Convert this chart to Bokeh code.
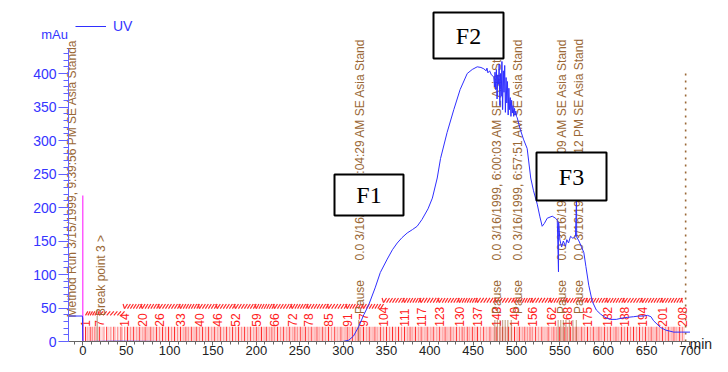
import numpy as np
from bokeh.plotting import figure
from bokeh.models import Range1d, FixedTicker
from bokeh.core.properties import value
from bokeh.embed import file_html
from bokeh.resources import INLINE

# ---------------- data ----------------
uv_time = [-16, -0.4, 0, 40, 100, 200, 300, 306.7, 312, 318, 324, 329.7, 337, 343, 351, 357, 362.5,
           368, 374, 380, 385.5, 391, 398, 403, 408.6, 412.4, 420, 427.7, 435, 443.2, 449, 454.7,
           459, 462.3, 465, 466, 467, 469, 471, 473.8,
           474.6, 475.2, 476, 476.8, 477.6, 478.4, 479.2, 480, 480.8, 481.6, 482.4, 483.2, 484,
           484.8, 485.6, 486.4, 487.2, 488, 488.8, 489.6, 490.4, 491.2, 492, 492.8, 493.6, 494.4,
           495.2, 496, 496.8, 497.6, 498.4, 499.2, 500, 500.8,
           504, 508, 512.3, 516.4, 519.6, 523.9, 527, 529.6, 532, 535.4, 541.2, 545, 547, 548.4, 548.6,
           550, 552, 554, 556.5, 558, 560, 562.3, 565, 568, 569.2, 569.4, 572, 577.6, 580, 583.3, 587.3,
           592, 596.8, 602, 608.3, 615, 622, 627.6, 635, 641, 646.4, 651, 655, 658, 662, 666, 672,
           681.3, 690, 700]
uv_mau = [38, 38, 0, 0.5, 0, 0, 0, 2, 8, 22, 40, 55, 80, 103, 123, 137, 147,
          155, 162, 167, 172, 182, 198, 214, 244, 273, 312, 346, 376, 400, 406, 410,
          409, 407, 404, 408, 401, 404, 398, 395,
          380, 402, 376, 406, 362, 398, 384, 414, 352, 400, 366, 418, 346,
          404, 372, 412, 342, 394, 356, 388, 338, 378, 346, 364, 336, 360, 341,
          352, 336, 348, 338, 344, 336, 334,
          318, 302, 288, 244, 225, 205, 186, 172, 176, 184, 187, 184, 181, 104, 178,
          152, 141, 150, 142, 152, 147, 157, 154, 157, 215, 156, 150, 133, 112, 84, 60,
          47, 41, 36, 33, 33, 35, 36, 37, 38, 38, 39, 37, 31, 26, 21, 17,
          14, 14, 14]

n_fractions = 208
frac_label_num = [1, 7, 14, 20, 26, 33, 40, 46, 52, 59, 66, 72, 78, 85, 91, 97, 104, 111, 117,
                  123, 130, 137, 143, 149, 156, 162, 168, 175, 182, 188, 194, 201, 208]
frac_label_time = [3.1, 19.3, 48.1, 68.5, 88.4, 112.6, 134.5, 155, 176, 200, 221, 241.4, 260,
                   283.3, 304.8, 323.6, 346.7, 370.9, 390, 411, 434.3, 455, 476.6, 497.7, 518.5,
                   540, 558.8, 581.9, 604.9, 624.5, 645.3, 668.4, 691.4]
# fraction-collector mark bands: first fraction of each band, low/high level (mAu)
band_first_fraction = [1, 14, 104]
band_low = [39, 49, 58]
band_high = [45, 56, 65]
frac_tick_height = 22
frac_label_base = 22

pause_time = [320, 478, 502, 553, 572]
pause_stamp = ["0.0 3/16/1999, 5:04:29 AM SE Asia Stand",
               "0.0 3/16/1999, 6:00:03 AM SE Asia Stand",
               "0.0 3/16/1999, 6:57:51 AM SE Asia Stand",
               "0.0 3/16/1999, 7:59:09 AM SE Asia Stand",
               "0.0 3/16/1999, 1:06:12 PM SE Asia Stand"]
pause_mark_time = [318, 475, 478, 481, 484, 487, 490, 494, 548, 551, 554, 557, 561, 565, 569]
pause_label_base = 41
stamp_base = 121

method_run_text = "Method Run 3/15/1999, 9:39:56 PM SE Asia Standa"
method_run_time = -11.9
method_run_base = 36
break_point_text = "Break point 3 >"
break_point_time = 16.6
break_point_label_time = 21.2
break_point_base = 38
injection_time = 0
injection_mau = 218
end_marker_time = 695
end_marker_mau = 405

fraction_names = ["F1", "F2", "F3"]
y_ticks = list(range(0, 401, 50))
y_minor = list(range(0, 431, 10))
x_ticks = list(range(0, 701, 50))
x_minor = list(range(-10, 701, 10))

# ---------------- layout ----------------
W, H = 712, 356
PXX0, PXS = 82.3, 0.8674     # px of x=0, px per minute
PYY0, PYS = 341.0, 0.67      # px of y=0, px per mAu
X0 = -PXX0 / PXS
X1 = X0 + W / PXS
Y0 = -(H - PYY0) / PYS
Y1 = PYY0 / PYS + Y0 + (H - PYY0) / PYS - (H - PYY0) / PYS

def px2x(px):
    return (px - PXX0) / PXS

def py2y(py):
    return (PYY0 - py) / PYS

Y1 = py2y(0)
Y0 = py2y(H)

BROWN = "#9a6836"
BLUE = "#2f2fff"
FONT = value("Liberation Sans")

p = figure(width=W, height=H, output_backend="svg", toolbar_location=None,
           x_range=Range1d(X0, X1), y_range=Range1d(Y0, Y1), min_border=0)
p.outline_line_color = None
p.xgrid.grid_line_color = None
p.ygrid.grid_line_color = None

# axes
xa = p.xaxis[0]
xa.fixed_location = 0
xa.bounds = (px2x(68), 700)
xa.ticker = FixedTicker(ticks=x_ticks, minor_ticks=x_minor)
xa.axis_line_color = "#666666"
xa.major_tick_line_color = "#666666"
xa.minor_tick_line_color = "#666666"
xa.major_tick_out = 4
xa.major_tick_in = 0
xa.minor_tick_out = 3
xa.minor_tick_in = 0
xa.major_label_standoff = 0
xa.major_label_text_font = "Liberation Sans"
xa.major_label_text_font_size = "13px"
xa.major_label_text_color = "#222222"

ya = p.yaxis[0]
ya.fixed_location = px2x(68)
ya.bounds = (0, 438)
ya.ticker = FixedTicker(ticks=y_ticks, minor_ticks=y_minor)
ya.axis_line_color = "#6262ff"
ya.major_tick_line_color = "#6262ff"
ya.minor_tick_line_color = "#6262ff"
ya.major_tick_out = 10
ya.major_tick_in = 0
ya.minor_tick_out = 5
ya.minor_tick_in = 0
ya.major_label_standoff = 2
ya.major_label_text_font = "Liberation Sans"
ya.major_label_text_font_size = "14px"
ya.major_label_text_color = "#3535ff"

# fraction collector marks
nums = np.arange(1, n_fractions + 1)
frac_x = np.interp(nums, frac_label_num, frac_label_time)
step = np.diff(frac_x).mean()
tick_colors = ["#ff2a2a" if i % 2 == 0 else "#ff8c8c" for i in range(n_fractions)]
p.segment(x0=frac_x, y0=0, x1=frac_x, y1=frac_tick_height, line_color=tick_colors, line_width=1)
p.segment(x0=frac_x + step / 2, y0=0, x1=frac_x + step / 2, y1=frac_tick_height,
          line_color="#ffbcbc", line_width=1)

band_idx = np.searchsorted(band_first_fraction, nums, side="right") - 1
lo = np.array(band_low)[band_idx]
hi = np.array(band_high)[band_idx]
p.segment(x0=frac_x[:-1], y0=lo[:-1], x1=frac_x[1:], y1=hi[:-1], line_color="#ff2a2a",
          line_width=1.2)
lab_idx = np.array(frac_label_num[1:]) - 1
p.segment(x0=frac_x[lab_idx] - step * 0.5, y0=hi[lab_idx], x1=frac_x[lab_idx], y1=lo[lab_idx],
          line_color="#ff2a2a", line_width=1.2)

p.text(x=frac_label_time, y=[frac_label_base] * len(frac_label_num),
       text=[str(n) for n in frac_label_num], angle=np.pi / 2,
       text_align="left", text_baseline="middle", text_color="#ff2020",
       text_font=FONT, text_font_size=value("12px"))

# event markers
p.segment(x0=pause_mark_time, y0=0, x1=pause_mark_time, y1=32, line_color=BROWN,
          line_alpha=0.55, line_width=1.2)
p.segment(x0=[injection_time, break_point_time], y0=[0, 0],
          x1=[injection_time, break_point_time], y1=[method_run_base, break_point_base],
          line_color=[BROWN, "#b8a68e"], line_width=1.2)
p.segment(x0=[injection_time], y0=[0], x1=[injection_time], y1=[injection_mau],
          line_color="#ff33ff", line_width=1.2)
p.segment(x0=[end_marker_time], y0=[0], x1=[end_marker_time], y1=[end_marker_mau],
          line_color=BROWN, line_width=1.6, line_dash="2 5")

p.text(x=pause_time, y=[pause_label_base] * len(pause_time), text=["Pause"] * len(pause_time),
       angle=np.pi / 2, text_align="left", text_baseline="middle", text_color=BROWN,
       text_font=FONT, text_font_size=value("12px"))
p.text(x=pause_time, y=[stamp_base] * len(pause_time), text=pause_stamp,
       angle=np.pi / 2, text_align="left", text_baseline="middle", text_color=BROWN,
       text_font=FONT, text_font_size=value("12px"))
p.text(x=[method_run_time, break_point_label_time], y=[method_run_base, break_point_base],
       text=[method_run_text, break_point_text], angle=np.pi / 2, text_align="left",
       text_baseline="middle", text_color=BROWN, text_font=FONT, text_font_size=value("12px"))

# UV trace
p.line(uv_time, uv_mau, line_color=BLUE, line_width=1, legend_label="UV")

# fraction call-out boxes (screen positions, px)
box_px = [(334, 403, 174, 215), (433, 503, 12, 58), (536, 606, 152, 200)]
bl = [px2x(b[0]) for b in box_px]
br = [px2x(b[1]) for b in box_px]
bt = [py2y(b[2]) for b in box_px]
bb = [py2y(b[3]) for b in box_px]
p.quad(left=bl, right=br, top=bt, bottom=bb, fill_color="white", line_color="black", line_width=2)
p.text(x=[(a + b) / 2 for a, b in zip(bl, br)], y=[(a + b) / 2 for a, b in zip(bt, bb)],
       text=fraction_names, text_align="center", text_baseline="middle", text_color="black",
       text_font=value("Liberation Serif"), text_font_size=value("24px"))

# unit labels
p.text(x=[px2x(54)], y=[py2y(34)], text=["mAu"], text_align="center", text_baseline="middle",
       text_color="#3535ff", text_font=FONT, text_font_size=value("13px"))
p.text(x=[px2x(689)], y=[py2y(343)], text=["min"], text_align="left", text_baseline="middle",
       text_color="#222222", text_font=FONT, text_font_size=value("14px"))

leg = p.legend[0]
leg.location = (75, 322)
leg.background_fill_alpha = 0
leg.border_line_color = None
leg.padding = 0
leg.margin = 0
leg.glyph_width = 31
leg.glyph_height = 16
leg.label_standoff = 7
leg.label_text_color = "#3535ff"
leg.label_text_font = "Liberation Sans"
leg.label_text_font_size = "14px"

open("out.html", "w").write(file_html(p, INLINE))
